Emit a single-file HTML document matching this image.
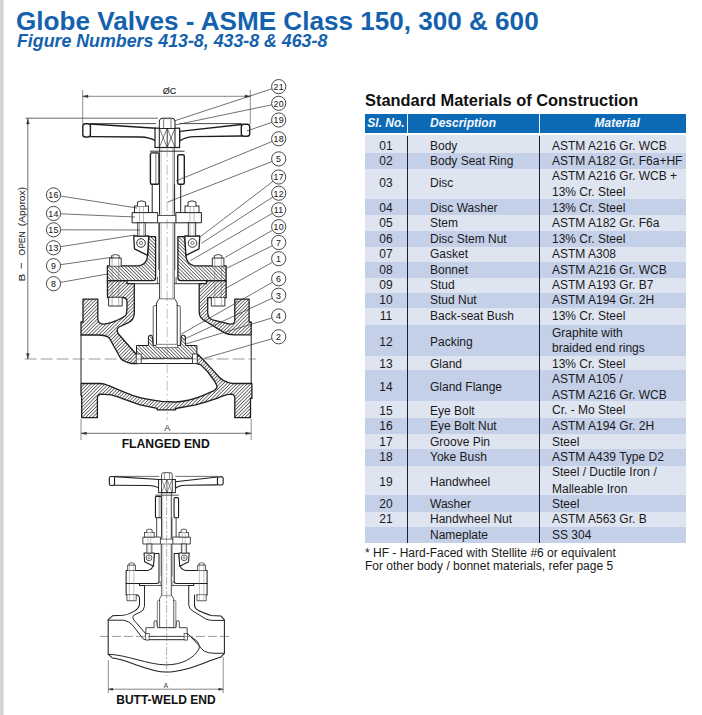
<!DOCTYPE html>
<html><head><meta charset="utf-8">
<style>
html,body{margin:0;padding:0;}
body{width:702px;height:715px;position:relative;overflow:hidden;background:#fff;font-family:"Liberation Sans",sans-serif;}
.lbar{position:absolute;left:0;top:0;width:4px;height:715px;background:linear-gradient(to right,#d8d8d8 0px,#d0d0d0 2px,#d4d4d4 3px,#f0f0f0 4px);}
.title{position:absolute;left:16px;top:6px;font-size:26.1px;font-weight:bold;color:#1462ad;white-space:nowrap;line-height:30px;}
.sub{position:absolute;left:17px;top:31px;font-size:17.8px;font-weight:bold;font-style:italic;color:#1462ad;white-space:nowrap;line-height:20px;}
.smc{position:absolute;left:365px;top:90px;font-size:16.4px;font-weight:bold;color:#111;white-space:nowrap;line-height:20px;}
.hdr{position:absolute;left:365px;top:114px;width:321px;height:19px;background:#0b69b5;}
.hsep{position:absolute;top:114px;width:1px;height:19px;background:#e8f0ff;}
.ht{position:absolute;top:114px;height:19px;line-height:19px;color:#f4f8ff;font-weight:bold;font-style:italic;font-size:12px;text-align:center;white-space:nowrap;}
.row{position:absolute;left:365px;width:321px;}
.vsep{position:absolute;top:135px;width:1px;background:#1b1f33;}
.t{position:absolute;font-size:12px;line-height:15px;color:#1a1a1a;white-space:nowrap;}
.no{left:365px;width:42px;text-align:center;}
.desc{left:430px;}
.mat{left:552px;}
.foot{position:absolute;left:365px;font-size:12px;line-height:15px;color:#1a1a1a;white-space:nowrap;}
svg{position:absolute;left:0;top:0;}
</style></head><body>
<div class="lbar"></div>
<div class="title">Globe Valves - ASME Class 150, 300 &amp; 600</div>
<div class="sub">Figure Numbers 413-8, 433-8 &amp; 463-8</div>
<div class="smc">Standard Materials of Construction</div>
<div class="hdr"></div>
<div class="ht" style="left:365px;width:42px">Sl. No.</div>
<div class="ht" style="left:408px;width:auto;left:430px">Description</div>
<div class="ht" style="left:594.5px">Material</div>
<div class="hsep" style="left:407px"></div>
<div class="hsep" style="left:539px"></div>
<div class="row" style="top:135px;height:18px;background:#dfe4f1"></div>
<div class="t no" style="top:138.7px">01</div>
<div class="t desc" style="top:138.7px">Body</div>
<div class="t mat" style="top:138.7px">ASTM A216 Gr. WCB</div>
<div class="row" style="top:153px;height:16px;background:#c4cfe8"></div>
<div class="t no" style="top:153.5px">02</div>
<div class="t desc" style="top:153.5px">Body Seat Ring</div>
<div class="t mat" style="top:153.5px">ASTM A182 Gr. F6a+HF</div>
<div class="row" style="top:169px;height:30px;background:#dfe4f1"></div>
<div class="t no" style="top:176.4px">03</div>
<div class="t desc" style="top:176.4px">Disc</div>
<div class="t mat" style="top:169.2px">ASTM A216 Gr. WCB +</div>
<div class="t mat" style="top:184.7px">13% Cr. Steel</div>
<div class="row" style="top:199px;height:16px;background:#c4cfe8"></div>
<div class="t no" style="top:200.7px">04</div>
<div class="t desc" style="top:200.7px">Disc Washer</div>
<div class="t mat" style="top:200.7px">13% Cr. Steel</div>
<div class="row" style="top:215px;height:16px;background:#dfe4f1"></div>
<div class="t no" style="top:215.8px">05</div>
<div class="t desc" style="top:215.8px">Stem</div>
<div class="t mat" style="top:215.8px">ASTM A182 Gr. F6a</div>
<div class="row" style="top:231px;height:16px;background:#c4cfe8"></div>
<div class="t no" style="top:231.8px">06</div>
<div class="t desc" style="top:231.8px">Disc Stem Nut</div>
<div class="t mat" style="top:231.8px">13% Cr. Steel</div>
<div class="row" style="top:247px;height:15px;background:#dfe4f1"></div>
<div class="t no" style="top:247.4px">07</div>
<div class="t desc" style="top:247.4px">Gasket</div>
<div class="t mat" style="top:247.4px">ASTM A308</div>
<div class="row" style="top:262px;height:16px;background:#c4cfe8"></div>
<div class="t no" style="top:262.5px">08</div>
<div class="t desc" style="top:262.5px">Bonnet</div>
<div class="t mat" style="top:262.5px">ASTM A216 Gr. WCB</div>
<div class="row" style="top:278px;height:15px;background:#dfe4f1"></div>
<div class="t no" style="top:277.8px">09</div>
<div class="t desc" style="top:277.8px">Stud</div>
<div class="t mat" style="top:277.8px">ASTM A193 Gr. B7</div>
<div class="row" style="top:293px;height:15px;background:#c4cfe8"></div>
<div class="t no" style="top:293.2px">10</div>
<div class="t desc" style="top:293.2px">Stud Nut</div>
<div class="t mat" style="top:293.2px">ASTM A194 Gr. 2H</div>
<div class="row" style="top:308px;height:17px;background:#dfe4f1"></div>
<div class="t no" style="top:309.4px">11</div>
<div class="t desc" style="top:309.4px">Back-seat Bush</div>
<div class="t mat" style="top:309.4px">13% Cr. Steel</div>
<div class="row" style="top:325px;height:31px;background:#c4cfe8"></div>
<div class="t no" style="top:334.8px">12</div>
<div class="t desc" style="top:334.8px">Packing</div>
<div class="t mat" style="top:325.8px">Graphite with</div>
<div class="t mat" style="top:340.8px">braided end rings</div>
<div class="row" style="top:356px;height:14px;background:#dfe4f1"></div>
<div class="t no" style="top:357.4px">13</div>
<div class="t desc" style="top:357.4px">Gland</div>
<div class="t mat" style="top:357.4px">13% Cr. Steel</div>
<div class="row" style="top:370px;height:31px;background:#c4cfe8"></div>
<div class="t no" style="top:379.9px">14</div>
<div class="t desc" style="top:379.9px">Gland Flange</div>
<div class="t mat" style="top:372.4px">ASTM A105 /</div>
<div class="t mat" style="top:388.1px">ASTM A216 Gr. WCB</div>
<div class="row" style="top:401px;height:17px;background:#dfe4f1"></div>
<div class="t no" style="top:403.9px">15</div>
<div class="t desc" style="top:403.9px">Eye Bolt</div>
<div class="t mat" style="top:403.4px">Cr. - Mo Steel</div>
<div class="row" style="top:418px;height:16px;background:#c4cfe8"></div>
<div class="t no" style="top:418.9px">16</div>
<div class="t desc" style="top:418.9px">Eye Bolt Nut</div>
<div class="t mat" style="top:419.4px">ASTM A194 Gr. 2H</div>
<div class="row" style="top:434px;height:15px;background:#dfe4f1"></div>
<div class="t no" style="top:434.6px">17</div>
<div class="t desc" style="top:434.6px">Groove Pin</div>
<div class="t mat" style="top:434.6px">Steel</div>
<div class="row" style="top:449px;height:17px;background:#c4cfe8"></div>
<div class="t no" style="top:450.0px">18</div>
<div class="t desc" style="top:450.0px">Yoke Bush</div>
<div class="t mat" style="top:450.0px">ASTM A439 Type D2</div>
<div class="row" style="top:466px;height:29px;background:#dfe4f1"></div>
<div class="t no" style="top:474.5px">19</div>
<div class="t desc" style="top:474.5px">Handwheel</div>
<div class="t mat" style="top:465.0px">Steel / Ductile Iron /</div>
<div class="t mat" style="top:482.0px">Malleable Iron</div>
<div class="row" style="top:495px;height:17px;background:#c4cfe8"></div>
<div class="t no" style="top:497.0px">20</div>
<div class="t desc" style="top:497.0px">Washer</div>
<div class="t mat" style="top:496.5px">Steel</div>
<div class="row" style="top:512px;height:15px;background:#dfe4f1"></div>
<div class="t no" style="top:512.4px">21</div>
<div class="t desc" style="top:512.4px">Handwheel Nut</div>
<div class="t mat" style="top:512.4px">ASTM A563 Gr. B</div>
<div class="row" style="top:527px;height:16px;background:#c4cfe8"></div>
<div class="t no" style="top:527.8px"></div>
<div class="t desc" style="top:527.8px">Nameplate</div>
<div class="t mat" style="top:527.8px">SS 304</div>
<div class="vsep" style="left:407px;top:136px;height:407px"></div>
<div class="vsep" style="left:539px;top:136px;height:407px"></div>
<div class="foot" style="top:546px">* HF - Hard-Faced with Stellite #6 or equivalent</div>
<div class="foot" style="top:559px">For other body / bonnet materials, refer page 5</div>
<svg width="702" height="715" viewBox="0 0 702 715">
<defs>
<pattern id="hf" width="2.45" height="20" patternUnits="userSpaceOnUse" patternTransform="rotate(45)"><rect x="0" y="0" width="0.7" height="20" fill="#3a3a3a"/></pattern>
<pattern id="hb" width="2.45" height="20" patternUnits="userSpaceOnUse" patternTransform="rotate(-45)"><rect x="0" y="0" width="0.7" height="20" fill="#3a3a3a"/></pattern>
</defs>
<path d="M107.4,280.7 L127,280.7 L127,283.7 L134.3,283.7 L134.3,314 Q133.5,321 127.8,322.8 L119,327 Q115.5,330 118.5,334 L136.4,354.5 L138,357 L138,363.5 L132,363.5 Q124,362 120.7,358.5 L109.3,338 Q106,335 98,335 L81,335 L81,322 L83,322 L83,299.2 L97.8,299.2 L97.8,319 Q98,324.2 104.3,324.2 Q116,322 125.6,315.7 Q127,314 127,305 L127,301.4 Q126.5,297.5 122.8,297.5 L107.5,297.5 Z" fill="url(#hf)" stroke="#1e1e1e" stroke-width="1.3" stroke-linejoin="round" stroke-linecap="round"/>
<path d="M199.2,283.7 L206.5,283.7 L206.5,280.7 L226.1,280.7 L226.1,297.7 L207.7,297.7 L207.7,312.7 Q208,318.5 212.7,319.8 L229.8,324.1 Q234.8,324.5 234.8,320 L234.8,299.2 L249.1,299.2 L249.1,322 L251.2,322 L251.2,334.8 L234.1,334.8 Q228,334.8 224.1,332.6 L205.6,321.3 Q199.2,318 199.2,312 Z" fill="url(#hf)" stroke="#1e1e1e" stroke-width="1.3" stroke-linejoin="round" stroke-linecap="round"/>
<path d="M81,383.5 L100.2,383.5 C104,383.5 106,384.5 108.8,385.6 L118.7,389.9 Q126,393 133,395.6 Q140,397.8 147.2,399.1 Q155,400.7 161.5,401.3 L176,402 Q190,401 202.7,395.6 L214.1,390.6 Q217.5,388.5 217,386 L214.5,381 L207.5,371.5 L200.5,364.6 L196.5,363.5 L197,354.3 L197.7,354.3 L202.7,359.3 L214.1,371.4 Q217,375 219.8,377.8 Q223,381 227,382 Q230,383.5 234,383.5 L251.9,383.5 L251.9,398.4 L250.5,398.4 L250.5,417.7 L234.8,417.7 L234.8,398.4 Q234.5,394.2 231.5,394.2 Q225,394.5 217,398.4 Q205,402.5 195.6,404.8 L175.7,408.5 L175.7,409.8 L157.2,409.8 L157.2,408.4 Q148,406.5 140.1,404.8 L125.9,399.9 Q117,396.5 111.6,394.9 L100.9,394.2 Q97.4,395 97.4,398 L97.4,417.7 L81.7,417.7 L81.7,395.6 L81,395.6 Z" fill="url(#hf)" stroke="#1e1e1e" stroke-width="1.3" stroke-linejoin="round" stroke-linecap="round"/>
<line x1="132" y1="363.5" x2="196" y2="363.5" stroke="#1e1e1e" stroke-width="1.0"/>
<line x1="81" y1="335" x2="81" y2="383" stroke="#1e1e1e" stroke-width="1.0"/>
<line x1="251.2" y1="334.8" x2="251.2" y2="383" stroke="#1e1e1e" stroke-width="1.0"/>
<path d="M148.7,236.6 L155.6,236.6 L155.6,277.5 Q155.6,280.7 152.5,280.7 L107.4,280.7 L107.4,265.8 L139,265.8 Q147,264.5 147.6,255.3 Z" fill="url(#hb)" stroke="#1e1e1e" stroke-width="1.3" stroke-linejoin="round" stroke-linecap="round"/>
<path d="M184.8,236.6 L177.9,236.6 L177.9,277.5 Q177.9,280.7 181.0,280.7 L226.1,280.7 L226.1,265.8 L194.5,265.8 Q186.5,264.5 185.9,255.3 Z" fill="url(#hb)" stroke="#1e1e1e" stroke-width="1.3" stroke-linejoin="round" stroke-linecap="round"/>
<line x1="134.3" y1="283.7" x2="199.2" y2="283.7" stroke="#1e1e1e" stroke-width="0.9"/>
<line x1="157.4" y1="277" x2="157.4" y2="283.7" stroke="#1e1e1e" stroke-width="0.7"/>
<line x1="176.1" y1="277" x2="176.1" y2="283.7" stroke="#1e1e1e" stroke-width="0.7"/>
<path d="M133.7,236 L148.7,236 L147.6,255.3 L134.5,248.8 Z" fill="#fff" stroke="#1e1e1e" stroke-width="1.3" stroke-linejoin="round" stroke-linecap="round"/>
<path d="M199.8,236 L184.8,236 L185.9,255.3 L199.0,248.8 Z" fill="#fff" stroke="#1e1e1e" stroke-width="1.3" stroke-linejoin="round" stroke-linecap="round"/>
<circle cx="141.0" cy="243" r="4.3" fill="none" stroke="#1e1e1e" stroke-width="0.9"/>
<circle cx="141.0" cy="243" r="1.6" fill="none" stroke="#1e1e1e" stroke-width="0.6"/>
<circle cx="192.5" cy="243" r="4.3" fill="none" stroke="#1e1e1e" stroke-width="0.9"/>
<circle cx="192.5" cy="243" r="1.6" fill="none" stroke="#1e1e1e" stroke-width="0.6"/>
<path d="M109.6,265.8 L109.6,258.0 L121.2,258.0 L121.2,265.8" fill="#fff" stroke="#1e1e1e" stroke-width="0.9" stroke-linejoin="round" stroke-linecap="round"/>
<path d="M111.6,258.0 L111.6,255.5 Q115.4,253.5 119.2,255.5 L119.2,258.0" fill="none" stroke="#1e1e1e" stroke-width="0.8" stroke-linejoin="round" stroke-linecap="round"/>
<path d="M108.6,297.7 L108.6,306 L122.2,306 L122.2,297.7" fill="#fff" stroke="#1e1e1e" stroke-width="0.9" stroke-linejoin="round" stroke-linecap="round"/>
<line x1="112.1" y1="258.0" x2="112.1" y2="306" stroke="#666" stroke-width="0.5"/>
<line x1="118.7" y1="258.0" x2="118.7" y2="306" stroke="#666" stroke-width="0.5"/>
<path d="M212.3,265.8 L212.3,258.0 L223.9,258.0 L223.9,265.8" fill="#fff" stroke="#1e1e1e" stroke-width="0.9" stroke-linejoin="round" stroke-linecap="round"/>
<path d="M214.3,258.0 L214.3,255.5 Q218.10000000000002,253.5 221.9,255.5 L221.9,258.0" fill="none" stroke="#1e1e1e" stroke-width="0.8" stroke-linejoin="round" stroke-linecap="round"/>
<path d="M211.3,297.7 L211.3,306 L224.9,306 L224.9,297.7" fill="#fff" stroke="#1e1e1e" stroke-width="0.9" stroke-linejoin="round" stroke-linecap="round"/>
<line x1="214.8" y1="258.0" x2="214.8" y2="306" stroke="#666" stroke-width="0.5"/>
<line x1="221.4" y1="258.0" x2="221.4" y2="306" stroke="#666" stroke-width="0.5"/>
<rect x="159.6" y="147" width="14.6" height="152" fill="#fff" stroke="#333" stroke-width="0.9"/>
<line x1="161.2" y1="147" x2="161.2" y2="299" stroke="#999" stroke-width="0.5"/>
<line x1="172.6" y1="147" x2="172.6" y2="299" stroke="#999" stroke-width="0.5"/>
<path d="M158.6,299.5 L156.5,303 L156.5,345.5 L177.2,345.5 L177.2,303 L175.2,299.5" fill="#fff" stroke="#1e1e1e" stroke-width="0.9" stroke-linejoin="round" stroke-linecap="round"/>
<path d="M153.2,345 L153.2,307 Q153.2,305.6 155,305.6 L156.5,305.6" fill="none" stroke="#1e1e1e" stroke-width="0.7" stroke-linejoin="round" stroke-linecap="round"/>
<path d="M180.3,345 L180.3,307 Q180.3,305.6 178.5,305.6 L177.0,305.6" fill="none" stroke="#1e1e1e" stroke-width="0.7" stroke-linejoin="round" stroke-linecap="round"/>
<path d="M136.9,345.5 L148.4,345.5 L148.4,337 Q148.4,335.3 150,335.3 L152,335.3 L152.5,338 L153.2,345.5 L180.6,345.5 L181.3,338 L181.8,335.3 L183.6,335.3 Q185.4,335.3 185.4,337 L185.4,345.5 L196.9,345.5 L196.9,358.3 L136.9,358.3 Z" fill="url(#hb)" stroke="#1e1e1e" stroke-width="1.0" stroke-linejoin="round" stroke-linecap="round"/>
<rect x="156" y="344.2" width="21.5" height="3.5" fill="#fff" stroke="#333" stroke-width="0.6"/>
<rect x="136.2" y="354" width="5" height="9.5" fill="#fff" stroke="#222" stroke-width="0.8"/>
<rect x="192.4" y="354" width="4.8" height="9.5" fill="#fff" stroke="#222" stroke-width="0.8"/>
<line x1="152.2" y1="184.3" x2="152.2" y2="213" stroke="#1e1e1e" stroke-width="1.0"/>
<line x1="159.5" y1="184.3" x2="159.5" y2="213" stroke="#1e1e1e" stroke-width="0.9"/>
<line x1="174.6" y1="184.3" x2="174.6" y2="213" stroke="#1e1e1e" stroke-width="0.9"/>
<line x1="180.7" y1="184.3" x2="180.7" y2="213" stroke="#1e1e1e" stroke-width="1.0"/>
<line x1="150" y1="151.2" x2="184.5" y2="151.2" stroke="#1e1e1e" stroke-width="0.9"/>
<rect x="150.4" y="152.9" width="8.6" height="31.4" rx="1.5" fill="#fff" stroke="#1e1e1e" stroke-width="1.4"/>
<rect x="177.7" y="154.7" width="6.6" height="29.6" rx="1.5" fill="#fff" stroke="#1e1e1e" stroke-width="1.4"/>
<line x1="155.9" y1="153" x2="155.9" y2="184" stroke="#1e1e1e" stroke-width="0.6"/>
<path d="M132.5,212.6 L157.7,212.6 L157.7,222.8 L132.5,222.8 Z" fill="#fff" stroke="#1e1e1e" stroke-width="1.0" stroke-linejoin="round" stroke-linecap="round"/>
<path d="M201.0,212.6 L175.8,212.6 L175.8,222.8 L201.0,222.8 Z" fill="#fff" stroke="#1e1e1e" stroke-width="1.0" stroke-linejoin="round" stroke-linecap="round"/>
<rect x="157.7" y="215.6" width="18.1" height="7.2" fill="#fff" stroke="#333" stroke-width="0.8"/>
<rect x="134.5" y="206" width="14" height="6.6" fill="#fff" stroke="#1e1e1e" stroke-width="0.9"/>
<path d="M137.5,206 L137.5,202 Q141.5,199.6 145.5,202 L145.5,206" fill="#fff" stroke="#1e1e1e" stroke-width="0.9" stroke-linejoin="round" stroke-linecap="round"/>
<rect x="137.8" y="222.8" width="7.4" height="13.2" fill="#fff" stroke="#1e1e1e" stroke-width="0.9"/>
<line x1="139.5" y1="206" x2="139.5" y2="236" stroke="#777" stroke-width="0.5"/>
<line x1="143.5" y1="206" x2="143.5" y2="236" stroke="#777" stroke-width="0.5"/>
<rect x="185.0" y="206" width="14" height="6.6" fill="#fff" stroke="#1e1e1e" stroke-width="0.9"/>
<path d="M188.0,206 L188.0,202 Q192.0,199.6 196.0,202 L196.0,206" fill="#fff" stroke="#1e1e1e" stroke-width="0.9" stroke-linejoin="round" stroke-linecap="round"/>
<rect x="188.3" y="222.8" width="7.4" height="13.2" fill="#fff" stroke="#1e1e1e" stroke-width="0.9"/>
<line x1="190.0" y1="206" x2="190.0" y2="236" stroke="#777" stroke-width="0.5"/>
<line x1="194.0" y1="206" x2="194.0" y2="236" stroke="#777" stroke-width="0.5"/>
<line x1="158.6" y1="223" x2="158.6" y2="270" stroke="#444" stroke-width="0.7"/>
<line x1="174.9" y1="223" x2="174.9" y2="270" stroke="#444" stroke-width="0.7"/>
<path d="M90.3,124 L156,128.2 L156,141 Q150,137.2 140,137 L90.3,136.6" fill="#fff" stroke="#1e1e1e" stroke-width="1.4" stroke-linejoin="round" stroke-linecap="round"/>
<line x1="90.3" y1="123.6" x2="156" y2="123.6" stroke="#1e1e1e" stroke-width="0.8"/>
<rect x="82.8" y="123.8" width="7.6" height="13.2" rx="2.5" fill="#fff" stroke="#1e1e1e" stroke-width="1.4"/>
<path d="M241.5,124.5 L179.6,131.4 L179.6,141 Q185,136.8 195,136.6 L241.5,136" fill="#fff" stroke="#1e1e1e" stroke-width="1.4" stroke-linejoin="round" stroke-linecap="round"/>
<line x1="179.6" y1="123.6" x2="241.5" y2="123.6" stroke="#1e1e1e" stroke-width="0.8"/>
<rect x="241.3" y="124.3" width="8.4" height="12" rx="2.5" fill="#fff" stroke="#1e1e1e" stroke-width="1.4"/>
<rect x="155" y="128.2" width="24.6" height="19.3" fill="#fff" stroke="#1e1e1e" stroke-width="1.2"/>
<rect x="159.3" y="128.2" width="15.7" height="19.3" fill="none" stroke="#1e1e1e" stroke-width="1.0"/>
<path d="M159.3,128.2 L167.2,147.5 L175,128.2 M159.3,147.5 L167.2,128.2 L175,147.5" fill="none" stroke="#1e1e1e" stroke-width="0.6" stroke-linejoin="round" stroke-linecap="round"/>
<line x1="167.2" y1="118.5" x2="167.2" y2="147.5" stroke="#1e1e1e" stroke-width="0.9"/>
<path d="M159.3,128 L159.3,121 Q159.5,118.2 163,118.2 L171.5,118.2 Q175,118.2 175,121 L175,128" fill="#fff" stroke="#1e1e1e" stroke-width="1.0" stroke-linejoin="round" stroke-linecap="round"/>
<line x1="163.6" y1="119" x2="163.6" y2="128" stroke="#1e1e1e" stroke-width="0.6"/>
<line x1="171" y1="119" x2="171" y2="128" stroke="#1e1e1e" stroke-width="0.6"/>
<line x1="167.2" y1="147" x2="167.2" y2="420" stroke="#777" stroke-width="0.45" stroke-dasharray="10,3,2,3"/>
<line x1="24.6" y1="359" x2="256" y2="359" stroke="#555" stroke-width="0.6" stroke-dasharray="12,4"/>
<line x1="83" y1="96.3" x2="250" y2="96.3" stroke="#333" stroke-width="0.6"/>
<line x1="82.7" y1="90" x2="82.7" y2="124" stroke="#444" stroke-width="0.6"/>
<line x1="250.3" y1="90" x2="250.3" y2="124" stroke="#444" stroke-width="0.6"/>
<path d="M83,96.3 L88,95 L88,97.6 Z" fill="#333" stroke="#1e1e1e" stroke-width="0.3" stroke-linejoin="round" stroke-linecap="round"/>
<path d="M250,96.3 L245,95 L245,97.6 Z" fill="#333" stroke="#1e1e1e" stroke-width="0.3" stroke-linejoin="round" stroke-linecap="round"/>
<text x="169.6" y="93.7" font-family="Liberation Sans, sans-serif" font-size="9" fill="#2a2a2a" stroke="#2a2a2a" stroke-width="0.15" text-anchor="middle">ØC</text>
<line x1="25.6" y1="118.2" x2="158" y2="118.2" stroke="#444" stroke-width="0.8"/>
<line x1="27.8" y1="118.2" x2="27.8" y2="359" stroke="#333" stroke-width="0.7"/>
<path d="M27.8,119 L26.5,124 L29.1,124 Z" fill="#333" stroke="#1e1e1e" stroke-width="0.3" stroke-linejoin="round" stroke-linecap="round"/>
<path d="M27.8,358.5 L26.5,353.5 L29.1,353.5 Z" fill="#333" stroke="#1e1e1e" stroke-width="0.3" stroke-linejoin="round" stroke-linecap="round"/>
<text transform="translate(24.8,281.5) rotate(-90)" font-family="Liberation Sans, sans-serif" font-size="9.6" fill="#2a2a2a" stroke="#2a2a2a" stroke-width="0.1" lengthAdjust="spacingAndGlyphs" textLength="7.7">B</text>
<line x1="21.3" y1="263" x2="21.3" y2="268.5" stroke="#333" stroke-width="0.9"/>
<text transform="translate(24.8,255.4) rotate(-90)" font-family="Liberation Sans, sans-serif" font-size="9.6" fill="#2a2a2a" stroke="#2a2a2a" stroke-width="0.1" lengthAdjust="spacingAndGlyphs" textLength="23.9">OPEN</text>
<text transform="translate(24.8,226.2) rotate(-90)" font-family="Liberation Sans, sans-serif" font-size="9.6" fill="#2a2a2a" stroke="#2a2a2a" stroke-width="0.1" lengthAdjust="spacingAndGlyphs" textLength="39.3">(Approx)</text>
<line x1="81" y1="419" x2="81" y2="440" stroke="#444" stroke-width="0.6"/>
<line x1="251.2" y1="419" x2="251.2" y2="440" stroke="#444" stroke-width="0.6"/>
<line x1="81" y1="433.3" x2="251.2" y2="433.3" stroke="#333" stroke-width="0.7"/>
<path d="M81.5,433.3 L86.5,432 L86.5,434.6 Z" fill="#333" stroke="#1e1e1e" stroke-width="0.3" stroke-linejoin="round" stroke-linecap="round"/>
<path d="M250.7,433.3 L245.7,432 L245.7,434.6 Z" fill="#333" stroke="#1e1e1e" stroke-width="0.3" stroke-linejoin="round" stroke-linecap="round"/>
<text x="167.2" y="431.3" font-family="Liberation Sans, sans-serif" font-size="9" fill="#333" text-anchor="middle">A</text>
<text x="165.7" y="448" font-family="Liberation Sans, sans-serif" font-size="12.2" font-weight="bold" fill="#111" text-anchor="middle">FLANGED END</text>
<line x1="272.0" y1="88.8" x2="174" y2="121" stroke="#333" stroke-width="0.7"/>
<circle cx="278.7" cy="86.6" r="7.1" fill="#fff" stroke="#333" stroke-width="0.9"/>
<text x="278.7" y="89.89999999999999" font-family="Liberation Sans, sans-serif" font-size="8.8" fill="#222" stroke="#222" stroke-width="0.08" letter-spacing="0.3" text-anchor="middle">21</text>
<line x1="271.8" y1="104.8" x2="175" y2="125" stroke="#333" stroke-width="0.7"/>
<circle cx="278.7" cy="103.3" r="7.1" fill="#fff" stroke="#333" stroke-width="0.9"/>
<text x="278.7" y="106.6" font-family="Liberation Sans, sans-serif" font-size="8.8" fill="#222" stroke="#222" stroke-width="0.08" letter-spacing="0.3" text-anchor="middle">20</text>
<line x1="272.0" y1="122.3" x2="246.7" y2="131" stroke="#333" stroke-width="0.7"/>
<circle cx="278.7" cy="120" r="7.1" fill="#fff" stroke="#333" stroke-width="0.9"/>
<text x="278.7" y="123.3" font-family="Liberation Sans, sans-serif" font-size="8.8" fill="#222" stroke="#222" stroke-width="0.08" letter-spacing="0.3" text-anchor="middle">19</text>
<line x1="272.1" y1="141.5" x2="176" y2="181" stroke="#333" stroke-width="0.7"/>
<circle cx="278.7" cy="138.8" r="7.1" fill="#fff" stroke="#333" stroke-width="0.9"/>
<text x="278.7" y="142.10000000000002" font-family="Liberation Sans, sans-serif" font-size="8.8" fill="#222" stroke="#222" stroke-width="0.08" letter-spacing="0.3" text-anchor="middle">18</text>
<line x1="272.1" y1="161.5" x2="167.9" y2="202" stroke="#333" stroke-width="0.7"/>
<circle cx="278.7" cy="158.9" r="7.1" fill="#fff" stroke="#333" stroke-width="0.9"/>
<text x="278.7" y="162.20000000000002" font-family="Liberation Sans, sans-serif" font-size="8.8" fill="#222" stroke="#222" stroke-width="0.08" letter-spacing="0.3" text-anchor="middle">5</text>
<line x1="273.1" y1="181.3" x2="200.6" y2="236.5" stroke="#333" stroke-width="0.7"/>
<circle cx="278.7" cy="177" r="7.1" fill="#fff" stroke="#333" stroke-width="0.9"/>
<text x="278.7" y="180.3" font-family="Liberation Sans, sans-serif" font-size="8.8" fill="#222" stroke="#222" stroke-width="0.08" letter-spacing="0.3" text-anchor="middle">17</text>
<line x1="272.7" y1="197.1" x2="201.3" y2="243.4" stroke="#333" stroke-width="0.7"/>
<circle cx="278.7" cy="193.2" r="7.1" fill="#fff" stroke="#333" stroke-width="0.9"/>
<text x="278.7" y="196.5" font-family="Liberation Sans, sans-serif" font-size="8.8" fill="#222" stroke="#222" stroke-width="0.08" letter-spacing="0.3" text-anchor="middle">12</text>
<line x1="272.5" y1="213.3" x2="190.4" y2="260.6" stroke="#333" stroke-width="0.7"/>
<circle cx="278.7" cy="209.8" r="7.1" fill="#fff" stroke="#333" stroke-width="0.9"/>
<text x="278.7" y="213.10000000000002" font-family="Liberation Sans, sans-serif" font-size="8.8" fill="#222" stroke="#222" stroke-width="0.08" letter-spacing="0.3" text-anchor="middle">11</text>
<line x1="272.5" y1="230.2" x2="224.9" y2="257.5" stroke="#333" stroke-width="0.7"/>
<circle cx="278.7" cy="226.7" r="7.1" fill="#fff" stroke="#333" stroke-width="0.9"/>
<text x="278.7" y="230.0" font-family="Liberation Sans, sans-serif" font-size="8.8" fill="#222" stroke="#222" stroke-width="0.08" letter-spacing="0.3" text-anchor="middle">10</text>
<line x1="272.3" y1="245.7" x2="226.4" y2="268.4" stroke="#333" stroke-width="0.7"/>
<circle cx="278.7" cy="242.5" r="7.1" fill="#fff" stroke="#333" stroke-width="0.9"/>
<text x="278.7" y="245.8" font-family="Liberation Sans, sans-serif" font-size="8.8" fill="#222" stroke="#222" stroke-width="0.08" letter-spacing="0.3" text-anchor="middle">7</text>
<line x1="272.5" y1="262.2" x2="226.4" y2="288" stroke="#333" stroke-width="0.7"/>
<circle cx="278.7" cy="258.7" r="7.1" fill="#fff" stroke="#333" stroke-width="0.9"/>
<text x="278.7" y="262.0" font-family="Liberation Sans, sans-serif" font-size="8.8" fill="#222" stroke="#222" stroke-width="0.08" letter-spacing="0.3" text-anchor="middle">1</text>
<line x1="272.5" y1="282.3" x2="181.4" y2="334" stroke="#333" stroke-width="0.7"/>
<circle cx="278.7" cy="278.8" r="7.1" fill="#fff" stroke="#333" stroke-width="0.9"/>
<text x="278.7" y="282.1" font-family="Liberation Sans, sans-serif" font-size="8.8" fill="#222" stroke="#222" stroke-width="0.08" letter-spacing="0.3" text-anchor="middle">6</text>
<line x1="272.3" y1="298.2" x2="182.8" y2="339.8" stroke="#333" stroke-width="0.7"/>
<circle cx="278.7" cy="295.2" r="7.1" fill="#fff" stroke="#333" stroke-width="0.9"/>
<text x="278.7" y="298.5" font-family="Liberation Sans, sans-serif" font-size="8.8" fill="#222" stroke="#222" stroke-width="0.08" letter-spacing="0.3" text-anchor="middle">3</text>
<line x1="271.9" y1="318.0" x2="185.7" y2="344" stroke="#333" stroke-width="0.7"/>
<circle cx="278.7" cy="316" r="7.1" fill="#fff" stroke="#333" stroke-width="0.9"/>
<text x="278.7" y="319.3" font-family="Liberation Sans, sans-serif" font-size="8.8" fill="#222" stroke="#222" stroke-width="0.08" letter-spacing="0.3" text-anchor="middle">4</text>
<line x1="271.9" y1="338.8" x2="204.2" y2="358.3" stroke="#333" stroke-width="0.7"/>
<circle cx="278.7" cy="336.8" r="7.1" fill="#fff" stroke="#333" stroke-width="0.9"/>
<text x="278.7" y="340.1" font-family="Liberation Sans, sans-serif" font-size="8.8" fill="#222" stroke="#222" stroke-width="0.08" letter-spacing="0.3" text-anchor="middle">2</text>
<line x1="60.5" y1="196.0" x2="137" y2="208" stroke="#333" stroke-width="0.7"/>
<circle cx="53.5" cy="194.9" r="7.1" fill="#fff" stroke="#333" stroke-width="0.9"/>
<text x="53.5" y="198.20000000000002" font-family="Liberation Sans, sans-serif" font-size="8.8" fill="#222" stroke="#222" stroke-width="0.08" letter-spacing="0.3" text-anchor="middle">16</text>
<line x1="60.6" y1="213.8" x2="135" y2="217" stroke="#333" stroke-width="0.7"/>
<circle cx="53.5" cy="213.5" r="7.1" fill="#fff" stroke="#333" stroke-width="0.9"/>
<text x="53.5" y="216.8" font-family="Liberation Sans, sans-serif" font-size="8.8" fill="#222" stroke="#222" stroke-width="0.08" letter-spacing="0.3" text-anchor="middle">14</text>
<line x1="60.6" y1="229.8" x2="140" y2="230" stroke="#333" stroke-width="0.7"/>
<circle cx="53.5" cy="229.8" r="7.1" fill="#fff" stroke="#333" stroke-width="0.9"/>
<text x="53.5" y="233.10000000000002" font-family="Liberation Sans, sans-serif" font-size="8.8" fill="#222" stroke="#222" stroke-width="0.08" letter-spacing="0.3" text-anchor="middle">15</text>
<line x1="60.5" y1="246.7" x2="135" y2="235" stroke="#333" stroke-width="0.7"/>
<circle cx="53.5" cy="247.8" r="7.1" fill="#fff" stroke="#333" stroke-width="0.9"/>
<text x="53.5" y="251.10000000000002" font-family="Liberation Sans, sans-serif" font-size="8.8" fill="#222" stroke="#222" stroke-width="0.08" letter-spacing="0.3" text-anchor="middle">13</text>
<line x1="60.5" y1="264.7" x2="114" y2="257" stroke="#333" stroke-width="0.7"/>
<circle cx="53.5" cy="265.7" r="7.1" fill="#fff" stroke="#333" stroke-width="0.9"/>
<text x="53.5" y="269.0" font-family="Liberation Sans, sans-serif" font-size="8.8" fill="#222" stroke="#222" stroke-width="0.08" letter-spacing="0.3" text-anchor="middle">9</text>
<line x1="60.5" y1="282.4" x2="107.5" y2="274" stroke="#333" stroke-width="0.7"/>
<circle cx="53.5" cy="283.7" r="7.1" fill="#fff" stroke="#333" stroke-width="0.9"/>
<text x="53.5" y="287.0" font-family="Liberation Sans, sans-serif" font-size="8.8" fill="#222" stroke="#222" stroke-width="0.08" letter-spacing="0.3" text-anchor="middle">8</text>
<g transform="translate(166.6,479.5) scale(0.682) translate(-166.75,-128.2)">
<path d="M134.3,283.7 L127,283.7 L127,280.7 L107.4,280.7 L107.4,297.7 L123,297.7" fill="none" stroke="#1e1e1e" stroke-width="1.52" stroke-linejoin="round" stroke-linecap="round"/>
<path d="M199.2,283.7 L206.5,283.7 L206.5,280.7 L226.1,280.7 L226.1,297.7 L210.5,297.7" fill="none" stroke="#1e1e1e" stroke-width="1.52" stroke-linejoin="round" stroke-linecap="round"/>
<path d="M122.8,297.7 Q127,298 127,303 L127,312 Q126,317 119,321.6 Q111,326.5 103.2,327.2 L87.5,328.1 L81.1,333.6 L81.1,384.4 L87.5,390 C112,393 140,410.5 166,410.5 C195,410.5 224,395 245.7,389 L251.5,383 L251.5,334 L246.5,328.5 L232,327.5 Q221,324 212.7,319.8 Q207.7,317 207.7,312.7 L207.7,297.7" fill="#fff" stroke="#1e1e1e" stroke-width="1.52" stroke-linejoin="round" stroke-linecap="round"/>
<path d="M134.3,283.7 L134.3,314 Q133.5,321 127.8,322.8 L119,327 Q115.5,330 118.5,334 L136.4,354.5" fill="none" stroke="#1e1e1e" stroke-width="1.41" stroke-linejoin="round" stroke-linecap="round"/>
<path d="M81.1,334.5 L104.1,334.5 Q112,336 117.1,342 L131.9,361.3 Q133.5,363.1 137,363.1 L197,363.1" fill="none" stroke="#1e1e1e" stroke-width="1.41" stroke-linejoin="round" stroke-linecap="round"/>
<path d="M81.1,384.4 C108,385 140,400 166,400 C190,400 206,390 213.5,378 Q217,372 211,365 L200.5,357.5" fill="none" stroke="#1e1e1e" stroke-width="1.41" stroke-linejoin="round" stroke-linecap="round"/>
<path d="M197.7,354.3 L202.7,359.3 L214.1,371.4 Q218,377 222,380 Q228,383 236,383 L251.5,383" fill="none" stroke="#1e1e1e" stroke-width="1.41" stroke-linejoin="round" stroke-linecap="round"/>
<path d="M199.2,283.7 L199.2,312 Q199.2,318 205.6,321.3 L224.1,332.6 Q228,334.5 234.1,334.8 L251.5,334.8" fill="none" stroke="#1e1e1e" stroke-width="1.41" stroke-linejoin="round" stroke-linecap="round"/>
<path d="M148.7,236.6 L155.6,236.6 L155.6,277.5 Q155.6,280.7 152.5,280.7 L107.4,280.7 L107.4,261.5 L139,261.5 Q147,260.2 147.6,251.0 Z" fill="#fff" stroke="#1e1e1e" stroke-width="1.52" stroke-linejoin="round" stroke-linecap="round"/>
<path d="M184.8,236.6 L177.9,236.6 L177.9,277.5 Q177.9,280.7 181.0,280.7 L226.1,280.7 L226.1,261.5 L194.5,261.5 Q186.5,260.2 185.9,251.0 Z" fill="#fff" stroke="#1e1e1e" stroke-width="1.52" stroke-linejoin="round" stroke-linecap="round"/>
<line x1="134.3" y1="283.7" x2="199.2" y2="283.7" stroke="#1e1e1e" stroke-width="1.06"/>
<line x1="157.4" y1="277" x2="157.4" y2="283.7" stroke="#1e1e1e" stroke-width="0.82"/>
<line x1="176.1" y1="277" x2="176.1" y2="283.7" stroke="#1e1e1e" stroke-width="0.82"/>
<path d="M133.7,236 L148.7,236 L147.6,255.3 L134.5,248.8 Z" fill="#fff" stroke="#1e1e1e" stroke-width="1.52" stroke-linejoin="round" stroke-linecap="round"/>
<path d="M199.8,236 L184.8,236 L185.9,255.3 L199.0,248.8 Z" fill="#fff" stroke="#1e1e1e" stroke-width="1.52" stroke-linejoin="round" stroke-linecap="round"/>
<circle cx="141.0" cy="243" r="4.3" fill="none" stroke="#1e1e1e" stroke-width="1.06"/>
<circle cx="141.0" cy="243" r="1.6" fill="none" stroke="#1e1e1e" stroke-width="0.70"/>
<circle cx="192.5" cy="243" r="4.3" fill="none" stroke="#1e1e1e" stroke-width="1.06"/>
<circle cx="192.5" cy="243" r="1.6" fill="none" stroke="#1e1e1e" stroke-width="0.70"/>
<path d="M109.6,261.5 L109.6,253.7 L121.2,253.7 L121.2,261.5" fill="#fff" stroke="#1e1e1e" stroke-width="1.06" stroke-linejoin="round" stroke-linecap="round"/>
<path d="M111.6,253.7 L111.6,251.2 Q115.4,249.2 119.2,251.2 L119.2,253.7" fill="none" stroke="#1e1e1e" stroke-width="0.94" stroke-linejoin="round" stroke-linecap="round"/>
<path d="M108.6,297.7 L108.6,306 L122.2,306 L122.2,297.7" fill="#fff" stroke="#1e1e1e" stroke-width="1.06" stroke-linejoin="round" stroke-linecap="round"/>
<line x1="112.1" y1="253.7" x2="112.1" y2="306" stroke="#666" stroke-width="0.59"/>
<line x1="118.7" y1="253.7" x2="118.7" y2="306" stroke="#666" stroke-width="0.59"/>
<path d="M212.3,261.5 L212.3,253.7 L223.9,253.7 L223.9,261.5" fill="#fff" stroke="#1e1e1e" stroke-width="1.06" stroke-linejoin="round" stroke-linecap="round"/>
<path d="M214.3,253.7 L214.3,251.2 Q218.10000000000002,249.2 221.9,251.2 L221.9,253.7" fill="none" stroke="#1e1e1e" stroke-width="0.94" stroke-linejoin="round" stroke-linecap="round"/>
<path d="M211.3,297.7 L211.3,306 L224.9,306 L224.9,297.7" fill="#fff" stroke="#1e1e1e" stroke-width="1.06" stroke-linejoin="round" stroke-linecap="round"/>
<line x1="214.8" y1="253.7" x2="214.8" y2="306" stroke="#666" stroke-width="0.59"/>
<line x1="221.4" y1="253.7" x2="221.4" y2="306" stroke="#666" stroke-width="0.59"/>
<rect x="159.6" y="147" width="14.6" height="152" fill="#fff" stroke="#333" stroke-width="1.06"/>
<line x1="161.2" y1="147" x2="161.2" y2="299" stroke="#999" stroke-width="0.59"/>
<line x1="172.6" y1="147" x2="172.6" y2="299" stroke="#999" stroke-width="0.59"/>
<path d="M158.6,299.5 L156.5,303 L156.5,345.5 L177.2,345.5 L177.2,303 L175.2,299.5" fill="#fff" stroke="#1e1e1e" stroke-width="1.06" stroke-linejoin="round" stroke-linecap="round"/>
<path d="M153.2,345 L153.2,307 Q153.2,305.6 155,305.6 L156.5,305.6" fill="none" stroke="#1e1e1e" stroke-width="0.82" stroke-linejoin="round" stroke-linecap="round"/>
<path d="M180.3,345 L180.3,307 Q180.3,305.6 178.5,305.6 L177.0,305.6" fill="none" stroke="#1e1e1e" stroke-width="0.82" stroke-linejoin="round" stroke-linecap="round"/>
<path d="M136.9,345.5 L148.4,345.5 L148.4,337 Q148.4,335.3 150,335.3 L152,335.3 L152.5,338 L153.2,345.5 L180.6,345.5 L181.3,338 L181.8,335.3 L183.6,335.3 Q185.4,335.3 185.4,337 L185.4,345.5 L196.9,345.5 L196.9,358.3 L136.9,358.3 Z" fill="#fff" stroke="#1e1e1e" stroke-width="1.17" stroke-linejoin="round" stroke-linecap="round"/>
<rect x="136.2" y="354" width="5" height="9.5" fill="#fff" stroke="#222" stroke-width="0.94"/>
<rect x="192.4" y="354" width="4.8" height="9.5" fill="#fff" stroke="#222" stroke-width="0.94"/>
<line x1="152.2" y1="184.3" x2="152.2" y2="213" stroke="#1e1e1e" stroke-width="1.17"/>
<line x1="159.5" y1="184.3" x2="159.5" y2="213" stroke="#1e1e1e" stroke-width="1.06"/>
<line x1="174.6" y1="184.3" x2="174.6" y2="213" stroke="#1e1e1e" stroke-width="1.06"/>
<line x1="180.7" y1="184.3" x2="180.7" y2="213" stroke="#1e1e1e" stroke-width="1.17"/>
<line x1="150" y1="151.2" x2="184.5" y2="151.2" stroke="#1e1e1e" stroke-width="1.06"/>
<rect x="150.4" y="152.9" width="8.6" height="31.4" rx="1.5" fill="#fff" stroke="#1e1e1e" stroke-width="1.64"/>
<rect x="177.7" y="154.7" width="6.6" height="29.6" rx="1.5" fill="#fff" stroke="#1e1e1e" stroke-width="1.64"/>
<line x1="155.9" y1="153" x2="155.9" y2="184" stroke="#1e1e1e" stroke-width="0.70"/>
<path d="M132.5,212.6 L157.7,212.6 L157.7,222.8 L132.5,222.8 Z" fill="#fff" stroke="#1e1e1e" stroke-width="1.17" stroke-linejoin="round" stroke-linecap="round"/>
<path d="M201.0,212.6 L175.8,212.6 L175.8,222.8 L201.0,222.8 Z" fill="#fff" stroke="#1e1e1e" stroke-width="1.17" stroke-linejoin="round" stroke-linecap="round"/>
<rect x="157.7" y="215.6" width="18.1" height="7.2" fill="#fff" stroke="#333" stroke-width="0.94"/>
<rect x="134.5" y="206" width="14" height="6.6" fill="#fff" stroke="#1e1e1e" stroke-width="1.06"/>
<path d="M137.5,206 L137.5,202 Q141.5,199.6 145.5,202 L145.5,206" fill="#fff" stroke="#1e1e1e" stroke-width="1.06" stroke-linejoin="round" stroke-linecap="round"/>
<rect x="137.8" y="222.8" width="7.4" height="13.2" fill="#fff" stroke="#1e1e1e" stroke-width="1.06"/>
<line x1="139.5" y1="206" x2="139.5" y2="236" stroke="#777" stroke-width="0.59"/>
<line x1="143.5" y1="206" x2="143.5" y2="236" stroke="#777" stroke-width="0.59"/>
<rect x="185.0" y="206" width="14" height="6.6" fill="#fff" stroke="#1e1e1e" stroke-width="1.06"/>
<path d="M188.0,206 L188.0,202 Q192.0,199.6 196.0,202 L196.0,206" fill="#fff" stroke="#1e1e1e" stroke-width="1.06" stroke-linejoin="round" stroke-linecap="round"/>
<rect x="188.3" y="222.8" width="7.4" height="13.2" fill="#fff" stroke="#1e1e1e" stroke-width="1.06"/>
<line x1="190.0" y1="206" x2="190.0" y2="236" stroke="#777" stroke-width="0.59"/>
<line x1="194.0" y1="206" x2="194.0" y2="236" stroke="#777" stroke-width="0.59"/>
<line x1="158.6" y1="223" x2="158.6" y2="270" stroke="#444" stroke-width="0.82"/>
<line x1="174.9" y1="223" x2="174.9" y2="270" stroke="#444" stroke-width="0.82"/>
<path d="M90.3,124 L156,128.2 L156,141 Q150,137.2 140,137 L90.3,136.6" fill="#fff" stroke="#1e1e1e" stroke-width="1.64" stroke-linejoin="round" stroke-linecap="round"/>
<line x1="90.3" y1="123.6" x2="156" y2="123.6" stroke="#1e1e1e" stroke-width="0.94"/>
<rect x="82.8" y="123.8" width="7.6" height="13.2" rx="2.5" fill="#fff" stroke="#1e1e1e" stroke-width="1.64"/>
<path d="M241.5,124.5 L179.6,131.4 L179.6,141 Q185,136.8 195,136.6 L241.5,136" fill="#fff" stroke="#1e1e1e" stroke-width="1.64" stroke-linejoin="round" stroke-linecap="round"/>
<line x1="179.6" y1="123.6" x2="241.5" y2="123.6" stroke="#1e1e1e" stroke-width="0.94"/>
<rect x="241.3" y="124.3" width="8.4" height="12" rx="2.5" fill="#fff" stroke="#1e1e1e" stroke-width="1.64"/>
<rect x="155" y="128.2" width="24.6" height="19.3" fill="#fff" stroke="#1e1e1e" stroke-width="1.41"/>
<rect x="159.3" y="128.2" width="15.7" height="19.3" fill="none" stroke="#1e1e1e" stroke-width="1.17"/>
<path d="M159.3,128.2 L167.2,147.5 L175,128.2 M159.3,147.5 L167.2,128.2 L175,147.5" fill="none" stroke="#1e1e1e" stroke-width="0.70" stroke-linejoin="round" stroke-linecap="round"/>
<line x1="167.2" y1="118.5" x2="167.2" y2="147.5" stroke="#1e1e1e" stroke-width="1.06"/>
<path d="M159.3,128 L159.3,121 Q159.5,118.2 163,118.2 L171.5,118.2 Q175,118.2 175,121 L175,128" fill="#fff" stroke="#1e1e1e" stroke-width="1.17" stroke-linejoin="round" stroke-linecap="round"/>
<line x1="163.6" y1="119" x2="163.6" y2="128" stroke="#1e1e1e" stroke-width="0.70"/>
<line x1="171" y1="119" x2="171" y2="128" stroke="#1e1e1e" stroke-width="0.70"/>
</g>
<line x1="166.6" y1="493" x2="166.6" y2="676" stroke="#666" stroke-width="0.5" stroke-dasharray="8,2,2,2"/>
<line x1="100" y1="636.4" x2="232" y2="636.4" stroke="#555" stroke-width="0.6" stroke-dasharray="9,3"/>
<line x1="108.3" y1="660" x2="108.3" y2="693" stroke="#444" stroke-width="0.6"/>
<line x1="223.2" y1="657" x2="223.2" y2="693" stroke="#444" stroke-width="0.6"/>
<line x1="108.3" y1="689.2" x2="223.2" y2="689.2" stroke="#333" stroke-width="0.6"/>
<path d="M108.8,689.2 L112.8,688.1 L112.8,690.3 Z" fill="#333" stroke="#1e1e1e" stroke-width="0.3" stroke-linejoin="round" stroke-linecap="round"/>
<path d="M222.7,689.2 L218.7,688.1 L218.7,690.3 Z" fill="#333" stroke="#1e1e1e" stroke-width="0.3" stroke-linejoin="round" stroke-linecap="round"/>
<text x="166" y="687.5" font-family="Liberation Sans, sans-serif" font-size="6.5" fill="#333" text-anchor="middle">A</text>
<text x="165.9" y="703.8" font-family="Liberation Sans, sans-serif" font-size="12" font-weight="bold" fill="#111" text-anchor="middle">BUTT-WELD END</text>
</svg>
</body></html>
